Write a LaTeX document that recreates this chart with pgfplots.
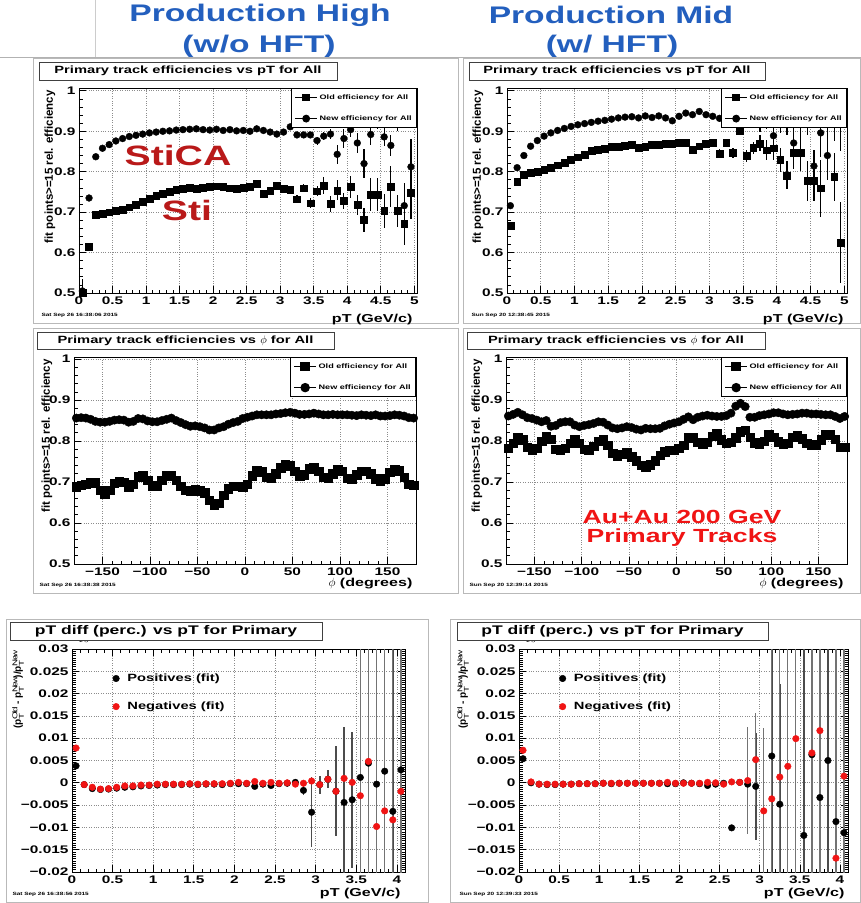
\documentclass[border=0pt]{standalone}
\usepackage{fontspec}
\setmainfont{Liberation Sans}[FakeStretch=1.4]
\newfontfamily\ylabfont{Liberation Sans}
\usepackage{pgfplots}
\usepackage{pgfplotstable}
\pgfplotsset{compat=1.18}
\definecolor{prodblue}{RGB}{35,95,190}
\definecolor{stired}{RGB}{185,25,25}
\definecolor{aured}{RGB}{240,20,20}
\definecolor{negred}{RGB}{240,20,20}
\definecolor{padgray}{RGB}{185,185,185}
\newcommand{\fs}[1]{\fontsize{#1}{#1}\selectfont}

\pgfplotstableread{
pt old eold new enew
0.05 0.500 0.030 0.505 0.030
0.15 0.615 0 0.735 0
0.25 0.693 0 0.837 0
0.35 0.697 0 0.858 0
0.45 0.700 0 0.867 0
0.55 0.703 0 0.876 0
0.65 0.707 0 0.882 0
0.75 0.712 0 0.887 0
0.85 0.718 0 0.890 0
0.95 0.725 0 0.893 0
1.05 0.733 0 0.896 0
1.15 0.740 0 0.898 0
1.25 0.746 0 0.900 0
1.35 0.751 0 0.901 0
1.45 0.755 0 0.903 0
1.55 0.758 0 0.904 0
1.65 0.760 0 0.905 0
1.75 0.758 0 0.906 0
1.85 0.760 0 0.904 0
1.95 0.762 0 0.903 0
2.05 0.764 0 0.905 0
2.15 0.762 0 0.902 0
2.25 0.759 0 0.904 0
2.35 0.757 0 0.901 0
2.45 0.760 0 0.902 0
2.55 0.762 0 0.900 0
2.65 0.770 0 0.906 0
2.75 0.746 0 0.902 0
2.85 0.754 0 0.898 0
2.95 0.766 0 0.893 0
3.05 0.757 0 0.898 0
3.15 0.755 0 0.911 0
3.25 0.732 0.010 0.891 0.006
3.35 0.759 0.010 0.891 0.006
3.45 0.722 0.012 0.891 0.007
3.55 0.752 0.012 0.877 0.010
3.65 0.766 0.020 0.888 0.010
3.75 0.720 0.020 0.893 0.012
3.85 0.754 0.025 0.843 0.023
3.95 0.728 0.020 0.882 0.023
4.05 0.762 0.028 0.904 0.018
4.15 0.718 0.025 0.871 0.025
4.25 0.681 0.030 0.820 0.035
4.35 0.744 0.040 0.892 0.025
4.45 0.744 0.040 0.925 0.020
4.55 0.703 0.043 0.886 0.022
4.65 0.763 0.050 0.865 0.027
4.75 0.703 0.040 0.930 0.030
4.85 0.672 0.053 0.716 0.055
4.95 0.748 0.065 0.812 0.070
}\ptHigh

\pgfplotstableread{
pt old eold new enew
0.05 0.666 0 0.716 0
0.15 0.775 0 0.810 0
0.25 0.793 0 0.840 0
0.35 0.797 0 0.863 0
0.45 0.801 0 0.877 0
0.55 0.805 0 0.888 0
0.65 0.809 0 0.896 0
0.75 0.816 0 0.902 0
0.85 0.822 0 0.907 0
0.95 0.829 0 0.912 0
1.05 0.836 0 0.916 0
1.15 0.843 0 0.919 0
1.25 0.851 0 0.922 0
1.35 0.855 0 0.925 0
1.45 0.857 0 0.927 0
1.55 0.861 0 0.930 0
1.65 0.862 0 0.933 0
1.75 0.865 0 0.935 0
1.85 0.866 0 0.936 0
1.95 0.859 0 0.933 0
2.05 0.862 0 0.938 0
2.15 0.866 0 0.934 0
2.25 0.867 0 0.938 0
2.35 0.869 0 0.933 0
2.45 0.870 0 0.926 0
2.55 0.871 0 0.937 0
2.65 0.871 0 0.945 0
2.75 0.855 0 0.941 0
2.85 0.863 0 0.949 0
2.95 0.869 0 0.941 0
3.05 0.871 0 0.937 0
3.15 0.845 0.010 0.932 0.008
3.25 0.871 0.010 0.930 0.010
3.35 0.847 0.012 0.930 0.010
3.45 0.902 0.012 0.925 0.012
3.55 0.839 0.015 0.922 0.015
3.65 0.859 0.015 0.925 0.015
3.75 0.870 0.020 0.918 0.020
3.85 0.853 0.025 0.925 0.020
3.95 0.858 0.030 0.889 0.025
4.05 0.829 0.030 0.925 0.030
4.15 0.791 0.035 0.920 0.030
4.25 0.847 0.040 0.871 0.050
4.35 0.847 0.045 0.930 0.040
4.45 0.777 0.050 0.930 0.040
4.55 0.777 0.050 0.814 0.040
4.65 0.759 0.070 0.896 0.060
4.75 0.925 0.050 0.840 0.060
4.85 0.787 0.060 0.925 0.050
4.95 0.625 0.100 0.930 0.080
}\ptMid

\pgfplotstableread{
phi old new
-177.5 0.689 0.856
-172.5 0.692 0.857
-167.5 0.695 0.856
-162.5 0.700 0.853
-157.5 0.698 0.848
-152.5 0.680 0.846
-147.5 0.672 0.846
-142.5 0.680 0.848
-137.5 0.697 0.851
-132.5 0.702 0.852
-127.5 0.700 0.851
-122.5 0.688 0.846
-117.5 0.695 0.848
-112.5 0.713 0.855
-107.5 0.716 0.854
-102.5 0.705 0.849
-97.5 0.690 0.847
-92.5 0.691 0.847
-87.5 0.705 0.850
-82.5 0.715 0.853
-77.5 0.716 0.856
-72.5 0.705 0.850
-67.5 0.690 0.845
-62.5 0.680 0.840
-57.5 0.678 0.836
-52.5 0.682 0.837
-47.5 0.679 0.835
-42.5 0.674 0.832
-37.5 0.655 0.827
-32.5 0.645 0.827
-27.5 0.648 0.832
-22.5 0.668 0.835
-17.5 0.684 0.841
-12.5 0.690 0.845
-7.5 0.690 0.848
-2.5 0.687 0.855
2.5 0.695 0.858
7.5 0.715 0.861
12.5 0.728 0.864
17.5 0.725 0.864
22.5 0.712 0.864
27.5 0.710 0.864
32.5 0.720 0.866
37.5 0.735 0.867
42.5 0.742 0.869
47.5 0.740 0.870
52.5 0.726 0.868
57.5 0.714 0.865
62.5 0.718 0.865
67.5 0.733 0.866
72.5 0.735 0.868
77.5 0.727 0.866
82.5 0.712 0.864
87.5 0.709 0.864
92.5 0.720 0.865
97.5 0.730 0.864
102.5 0.727 0.864
107.5 0.710 0.864
112.5 0.708 0.863
117.5 0.718 0.862
122.5 0.727 0.864
127.5 0.727 0.863
132.5 0.720 0.862
137.5 0.708 0.864
142.5 0.703 0.861
147.5 0.708 0.861
152.5 0.724 0.862
157.5 0.730 0.864
162.5 0.728 0.863
167.5 0.712 0.861
172.5 0.695 0.857
177.5 0.692 0.856
}\phiHigh

\pgfplotstableread{
phi old new
-177.5 0.783 0.861
-172.5 0.795 0.865
-167.5 0.808 0.870
-162.5 0.803 0.864
-157.5 0.785 0.857
-152.5 0.779 0.855
-147.5 0.783 0.851
-142.5 0.800 0.847
-137.5 0.812 0.850
-132.5 0.805 0.836
-127.5 0.780 0.838
-122.5 0.778 0.845
-117.5 0.782 0.847
-112.5 0.795 0.847
-107.5 0.803 0.839
-102.5 0.795 0.835
-97.5 0.780 0.838
-92.5 0.779 0.840
-87.5 0.787 0.843
-82.5 0.800 0.847
-77.5 0.803 0.846
-72.5 0.790 0.839
-67.5 0.770 0.832
-62.5 0.763 0.830
-57.5 0.768 0.832
-52.5 0.773 0.835
-47.5 0.762 0.833
-42.5 0.752 0.829
-37.5 0.741 0.827
-32.5 0.737 0.831
-27.5 0.742 0.830
-22.5 0.752 0.830
-17.5 0.765 0.831
-12.5 0.774 0.837
-7.5 0.778 0.841
-2.5 0.778 0.844
2.5 0.782 0.847
7.5 0.790 0.853
12.5 0.808 0.859
17.5 0.808 0.852
22.5 0.797 0.858
27.5 0.792 0.861
32.5 0.797 0.863
37.5 0.812 0.861
42.5 0.818 0.860
47.5 0.803 0.860
52.5 0.795 0.862
57.5 0.797 0.868
62.5 0.808 0.885
67.5 0.823 0.892
72.5 0.826 0.884
77.5 0.810 0.858
82.5 0.796 0.858
87.5 0.792 0.862
92.5 0.800 0.864
97.5 0.815 0.866
102.5 0.810 0.869
107.5 0.798 0.869
112.5 0.792 0.866
117.5 0.795 0.864
122.5 0.810 0.865
127.5 0.814 0.866
132.5 0.806 0.868
137.5 0.795 0.868
142.5 0.791 0.866
147.5 0.791 0.866
152.5 0.803 0.865
157.5 0.815 0.864
162.5 0.815 0.864
167.5 0.805 0.860
172.5 0.785 0.855
177.5 0.785 0.860
}\phiMid

\pgfplotstableread{
pt pos epos neg eneg
0.05 0.0038 0 0.0078 0
0.15 -0.0004 0 -0.0004 0
0.25 -0.0013 0 -0.0010 0
0.35 -0.0015 0 -0.0014 0
0.45 -0.0014 0 -0.0013 0
0.55 -0.0012 0 -0.0010 0
0.65 -0.0010 0 -0.0007 0
0.75 -0.0009 0 -0.0007 0
0.85 -0.0007 0 -0.0005 0
0.95 -0.0006 0 -0.0005 0
1.05 -0.0005 0 -0.0003 0
1.15 -0.0004 0 -0.0003 0
1.25 -0.0004 0 -0.0003 0
1.35 -0.0004 0 -0.0003 0
1.45 -0.0003 0 -0.0002 0
1.55 -0.0004 0 -0.0003 0
1.65 -0.0003 0 -0.0002 0
1.75 -0.0003 0 -0.0002 0
1.85 -0.0004 0 -0.0002 0
1.95 -0.0002 0 -0.0001 0
2.05 -0.0002 0 0.0001 0
2.15 -0.0002 0 -0.0001 0
2.25 -0.0008 0 0.0003 0
2.35 -0.0003 0 -0.0001 0
2.45 -0.0006 0 0.0001 0
2.55 -0.0002 0 -0.0001 0
2.65 -0.0001 0 0.0000 0
2.75 0.0001 0 -0.0003 0
2.85 -0.0017 0.0010 -0.0001 0
2.95 -0.0066 0.0078 0.0004 0
3.05 -0.0004 0.0020 -0.0004 0
3.15 0.0008 0.0020 0.0008 0
3.25 -0.0019 0.0101 -0.0019 0
3.35 -0.0044 0.0170 0.0010 0
3.45 -0.0038 0.0153 0.0001 0
3.55 0.0012 0.0500 -0.0029 0.0500
3.65 0.0044 0.0500 0.0048 0.0500
3.75 -0.0003 0.0500 -0.0098 0.0500
3.85 0.0026 0.0500 -0.0063 0.0500
3.95 -0.0064 0.0500 -0.0083 0.0500
4.05 0.0029 0.0500 -0.0019 0.0500
}\dHigh

\pgfplotstableread{
pt pos epos neg eneg
0.05 0.0054 0 0.0073 0
0.15 0.0000 0 0.0002 0
0.25 -0.0003 0 -0.0003 0
0.35 -0.0004 0 -0.0003 0
0.45 -0.0004 0 -0.0003 0
0.55 -0.0003 0 -0.0003 0
0.65 -0.0003 0 -0.0003 0
0.75 -0.0002 0 -0.0002 0
0.85 -0.0002 0 -0.0002 0
0.95 -0.0002 0 -0.0002 0
1.05 -0.0001 0 -0.0001 0
1.15 -0.0002 0 -0.0001 0
1.25 -0.0001 0 -0.0001 0
1.35 -0.0001 0 -0.0001 0
1.45 -0.0001 0 -0.0001 0
1.55 -0.0001 0 -0.0001 0
1.65 -0.0001 0 -0.0001 0
1.75 -0.0001 0 -0.0001 0
1.85 -0.0002 0 0.0001 0
1.95 -0.0002 0 -0.0001 0
2.05 0.0000 0 -0.0001 0
2.15 -0.0001 0 -0.0001 0
2.25 -0.0002 0 -0.0001 0
2.35 -0.0006 0 0.0001 0
2.45 -0.0003 0 0.0000 0
2.55 -0.0001 0 -0.0003 0
2.65 -0.0101 0 0.0002 0
2.75 0.0001 0 0.0001 0
2.85 -0.0003 0.0020 0.0005 0.0120
2.95 -0.0008 0.0120 0.0052 0.0105
3.05 nan 0 -0.0063 0.0185
3.15 0.0060 0.0500 -0.0036 0.0500
3.25 -0.0048 0.0270 0.0013 0.0300
3.35 nan 0 0.0037 0.0500
3.45 nan 0 0.0099 0.0500
3.55 -0.0118 0.0500 nan 0
3.65 0.0063 0.0500 0.0067 0.0500
3.75 -0.0033 0.0500 0.0117 0.0500
3.85 0.0050 0.0500 nan 0
3.95 -0.0087 0.0500 -0.0169 0.0500
4.05 -0.0112 0.0500 0.0015 0.0500
}\dMid

\pgfplotsset{
  rootax/.style={
    scale only axis, anchor=north west,
    axis line style={line width=0.8pt},
    tick align=inside,
    major tick length=7pt, minor tick length=3.5pt,
    every tick/.append style={line width=0.7pt, black},
    grid=major,
    major grid style={black!45, dotted, line width=0.7pt},
    ticklabel style={font=\bfseries\fs{11}},
    minor x tick num=4, minor y tick num=4,
  },
  effax/.style={
    rootax, xtick pos=bottom, ytick pos=left,
    ymin=0.5, ytick={0.5,0.6,0.7,0.8,0.9,1.0},
    yticklabels={0.5,0.6,0.7,0.8,0.9,1},
    legend style={at={(1,1)}, anchor=north east, draw=black, line width=0.6pt,
      fill=white, font=\bfseries\fs{6.5}, row sep=11pt, inner ysep=4pt,
      inner xsep=3pt, cells={anchor=west}},
    legend image code/.code={\draw[mark repeat=2, mark phase=2, ##1, sharp plot, line width=1pt]
      plot coordinates {(0pt,0pt) (11pt,0pt) (22pt,0pt)};},
  },
  ptax/.style={effax, xmin=0, xmax=5.04, ymax=1.007,
    xtick={0,0.5,1,1.5,2,2.5,3,3.5,4,4.5,5},
    xticklabels={0,0.5,1,1.5,2,2.5,3,3.5,4,4.5,5}},
  phiax/.style={effax, xmin=-180, xmax=180, ymax=1.005,
    xtick={-150,-100,-50,0,50,100,150},
    xticklabels={−150,−100,−50,0,50,100,150}},
  diffax/.style={rootax, tick pos=both, xmin=0, xmax=4.1, ymin=-0.02, ymax=0.03,
    minor y tick num=9,
    xtick={0,0.5,1,1.5,2,2.5,3,3.5,4},
    xticklabels={0,0.5,1,1.5,2,2.5,3,3.5,4},
    ytick={-0.02,-0.015,-0.01,-0.005,0,0.005,0.01,0.015,0.02,0.025,0.03},
    yticklabels={−0.02,−0.015,−0.01,−0.005,0,0.005,0.01,0.015,0.02,0.025,0.03},
    legend style={at={(axis cs:0.5,0.0249)}, anchor=north west, draw=none, fill=none,
      font=\bfseries\fs{10.5}, row sep=15pt, inner sep=0pt, cells={anchor=west},
      /tikz/every odd column/.style={column sep=6pt}},
    legend image code/.code={\draw[##1] plot coordinates {(3pt,0pt)};},
  },
  oldst/.style={only marks, mark=square*, mark size=3.4pt, black,
    /pgfplots/error bars/y dir=both, /pgfplots/error bars/y explicit,
    /pgfplots/error bars/error mark=none,
    /pgfplots/error bars/error bar style={line width=1.1pt, black}},
  newst/.style={only marks, mark=*, mark size=3.4pt, black,
    /pgfplots/error bars/y dir=both, /pgfplots/error bars/y explicit,
    /pgfplots/error bars/error mark=none,
    /pgfplots/error bars/error bar style={line width=1.1pt, black}},
  phist/.style={only marks, black},
  posst/.style={only marks, mark=*, mark size=3.3pt, black,
    /pgfplots/error bars/y dir=both, /pgfplots/error bars/y explicit,
    /pgfplots/error bars/error mark=none,
    /pgfplots/error bars/error bar style={line width=1.6pt, black!70}},
  negst/.style={only marks, mark=*, mark size=3.3pt, color=negred,
    /pgfplots/error bars/y dir=both, /pgfplots/error bars/y explicit,
    /pgfplots/error bars/error mark=none,
    /pgfplots/error bars/error bar style={line width=1.3pt, black!55}},
}

\begin{document}
\begin{tikzpicture}
\begin{scope}[x=1pt,y=-1pt]
  \path[use as bounding box, fill=white] (0,0) rectangle (861,903);
  \draw[black!30, line width=0.8pt] (0,57) -- (861,57);
  \draw[black!20, line width=0.6pt] (95,0) -- (95,57);
  \draw[padgray, line width=1pt] (33,58) rectangle (458,323);
  \draw[padgray, line width=1pt] (463,58) rectangle (860,323);
  \draw[padgray, line width=1pt] (33,328) rectangle (458,593);
  \draw[padgray, line width=1pt] (463,328) rectangle (860,593);
  \draw[padgray, line width=1pt] (6,619) rectangle (428,902);
  \draw[padgray, line width=1pt] (450,619) rectangle (860,902);
\end{scope}

% ---------- top left: pT, High
\begin{axis}[ptax, at={(79pt,-88pt)}, width=338pt, height=205pt]
\addplot[oldst] table[x=pt, y=old, y error=eold] {\ptHigh};
\addlegendentry{Old efficiency for All}
\addplot[newst] table[x=pt, y=new, y error=enew] {\ptHigh};
\addlegendentry{New efficiency for All}
\end{axis}

% ---------- top right: pT, Mid
\begin{axis}[ptax, at={(507pt,-88pt)}, width=340pt, height=205pt]
\addplot[oldst] table[x=pt, y=old, y error=eold] {\ptMid};
\addlegendentry{Old efficiency for All}
\addplot[newst] table[x=pt, y=new, y error=enew] {\ptMid};
\addlegendentry{New efficiency for All}
\end{axis}

% ---------- middle left: phi, High
\begin{axis}[phiax, at={(74pt,-357pt)}, width=342pt, height=207pt]
\addplot[phist, mark=square*, mark size=4.2pt] table[x=phi, y=old] {\phiHigh};
\addlegendentry{Old efficiency for All}
\addplot[phist, mark=*, mark size=4.2pt] table[x=phi, y=new] {\phiHigh};
\addlegendentry{New efficiency for All}
\end{axis}

% ---------- middle right: phi, Mid
\begin{axis}[phiax, at={(506pt,-357pt)}, width=341pt, height=207pt]
\addplot[phist, mark=square*, mark size=4.2pt] table[x=phi, y=old] {\phiMid};
\addlegendentry{Old efficiency for All}
\addplot[phist, mark=*, mark size=4.2pt] table[x=phi, y=new] {\phiMid};
\addlegendentry{New efficiency for All}
\end{axis}

% ---------- bottom left: pT diff, High
\begin{axis}[diffax, at={(72pt,-649pt)}, width=333pt, height=223pt]
\addplot[posst] table[x=pt, y=pos, y error=epos] {\dHigh};
\addlegendentry{Positives (fit)}
\addplot[negst] table[x=pt, y=neg, y error=eneg] {\dHigh};
\addlegendentry{Negatives (fit)}
\end{axis}

% ---------- bottom right: pT diff, Mid
\begin{axis}[diffax, at={(519pt,-649pt)}, width=329pt, height=223pt]
\addplot[posst] table[x=pt, y=pos, y error=epos] {\dMid};
\addlegendentry{Positives (fit)}
\addplot[negst] table[x=pt, y=neg, y error=eneg] {\dMid};
\addlegendentry{Negatives (fit)}
\end{axis}

\begin{scope}[x=1pt,y=-1pt]
  % headline
  \node[font=\bfseries\fs{24}, text=prodblue] at (260,15) {Production High};
  \node[font=\bfseries\fs{24}, text=prodblue] at (259,46) {(w/o HFT)};
  \node[font=\bfseries\fs{24}, text=prodblue] at (611,15) {Production Mid};
  \node[font=\bfseries\fs{24}, text=prodblue] at (612,46) {(w/ HFT)};
  % title boxes
  \draw[black!75, line width=0.8pt, fill=white] (39,62) rectangle (337,80);
  \node[font=\bfseries\fs{10.5}] at (188,71) {Primary track efficiencies vs pT for All};
  \draw[black!75, line width=0.8pt, fill=white] (469,62) rectangle (765,80);
  \node[font=\bfseries\fs{10.5}] at (617,71) {Primary track efficiencies vs pT for All};
  \draw[black!75, line width=0.8pt, fill=white] (37,332) rectangle (334,349);
  \node[font=\bfseries\fs{10.5}] at (185.5,340.5) {Primary track efficiencies vs $\phi$ for All};
  \draw[black!75, line width=0.8pt, fill=white] (467,332) rectangle (765,349);
  \node[font=\bfseries\fs{10.5}] at (616,340.5) {Primary track efficiencies vs $\phi$ for All};
  \draw[black!75, line width=0.8pt, fill=white] (10,622) rectangle (322,640);
  \node[font=\bfseries\fs{12.5}] at (166,631) {pT diff (perc.) vs pT for Primary};
  \draw[black!75, line width=0.8pt, fill=white] (457,622) rectangle (768,640);
  \node[font=\bfseries\fs{12.5}] at (612.5,631) {pT diff (perc.) vs pT for Primary};
  % y labels
  \node[rotate=90, anchor=east, font=\ylabfont\bfseries\fs{11.5}] at (50,87) {fit points>=15 rel. efficiency};
  \node[rotate=90, anchor=east, font=\ylabfont\bfseries\fs{11.5}] at (478,87) {fit points>=15 rel. efficiency};
  \node[rotate=90, anchor=east, font=\ylabfont\bfseries\fs{11.5}] at (47,356) {fit points>=15 rel. efficiency};
  \node[rotate=90, anchor=east, font=\ylabfont\bfseries\fs{11.5}] at (477,356) {fit points>=15 rel. efficiency};
  \node[rotate=90, anchor=east, font=\ylabfont\bfseries\fs{10}] at (18,648) {(p$_{\mathrm{T}}^{\mathrm{Old}}$ - p$_{\mathrm{T}}^{\mathrm{New}}$)/p$_{\mathrm{T}}^{\mathrm{New}}$};
  \node[rotate=90, anchor=east, font=\ylabfont\bfseries\fs{10}] at (463,648) {(p$_{\mathrm{T}}^{\mathrm{Old}}$ - p$_{\mathrm{T}}^{\mathrm{New}}$)/p$_{\mathrm{T}}^{\mathrm{New}}$};
  % x labels
  \node[anchor=east, font=\bfseries\fs{11.5}] at (416,320) {pT (GeV/c)};
  \node[anchor=east, font=\bfseries\fs{11.5}] at (847,320) {pT (GeV/c)};
  \node[anchor=east, font=\bfseries\fs{11.5}] at (416,584) {$\phi$ (degrees)};
  \node[anchor=east, font=\bfseries\fs{11.5}] at (847,584) {$\phi$ (degrees)};
  \node[anchor=east, font=\bfseries\fs{11.5}] at (404,894) {pT (GeV/c)};
  \node[anchor=east, font=\bfseries\fs{11.5}] at (848,894) {pT (GeV/c)};
  % dates
  \node[anchor=west, font=\bfseries\fs{4.6}] at (38,315) {Sat Sep 26 16:38:06 2015};
  \node[anchor=west, font=\bfseries\fs{4.6}] at (468,315) {Sun Sep 20 12:38:45 2015};
  \node[anchor=west, font=\bfseries\fs{4.6}] at (36,585) {Sat Sep 26 16:38:38 2015};
  \node[anchor=west, font=\bfseries\fs{4.6}] at (466,585) {Sun Sep 20 12:39:14 2015};
  \node[anchor=west, font=\bfseries\fs{4.6}] at (9,894) {Sat Sep 26 16:38:56 2015};
  \node[anchor=west, font=\bfseries\fs{4.6}] at (456,894) {Sun Sep 20 12:39:33 2015};
  % annotations
  \node[font=\bfseries\fs{28}, text=stired] at (178,155) {StiCA};
  \node[font=\bfseries\fs{28}, text=stired] at (187,210) {Sti};
  \node[font=\bfseries\fs{19}, text=aured] at (682,517) {Au+Au 200 GeV};
  \node[font=\bfseries\fs{19}, text=aured] at (682,538) {Primary Tracks};
\end{scope}
\end{tikzpicture}
\end{document}
